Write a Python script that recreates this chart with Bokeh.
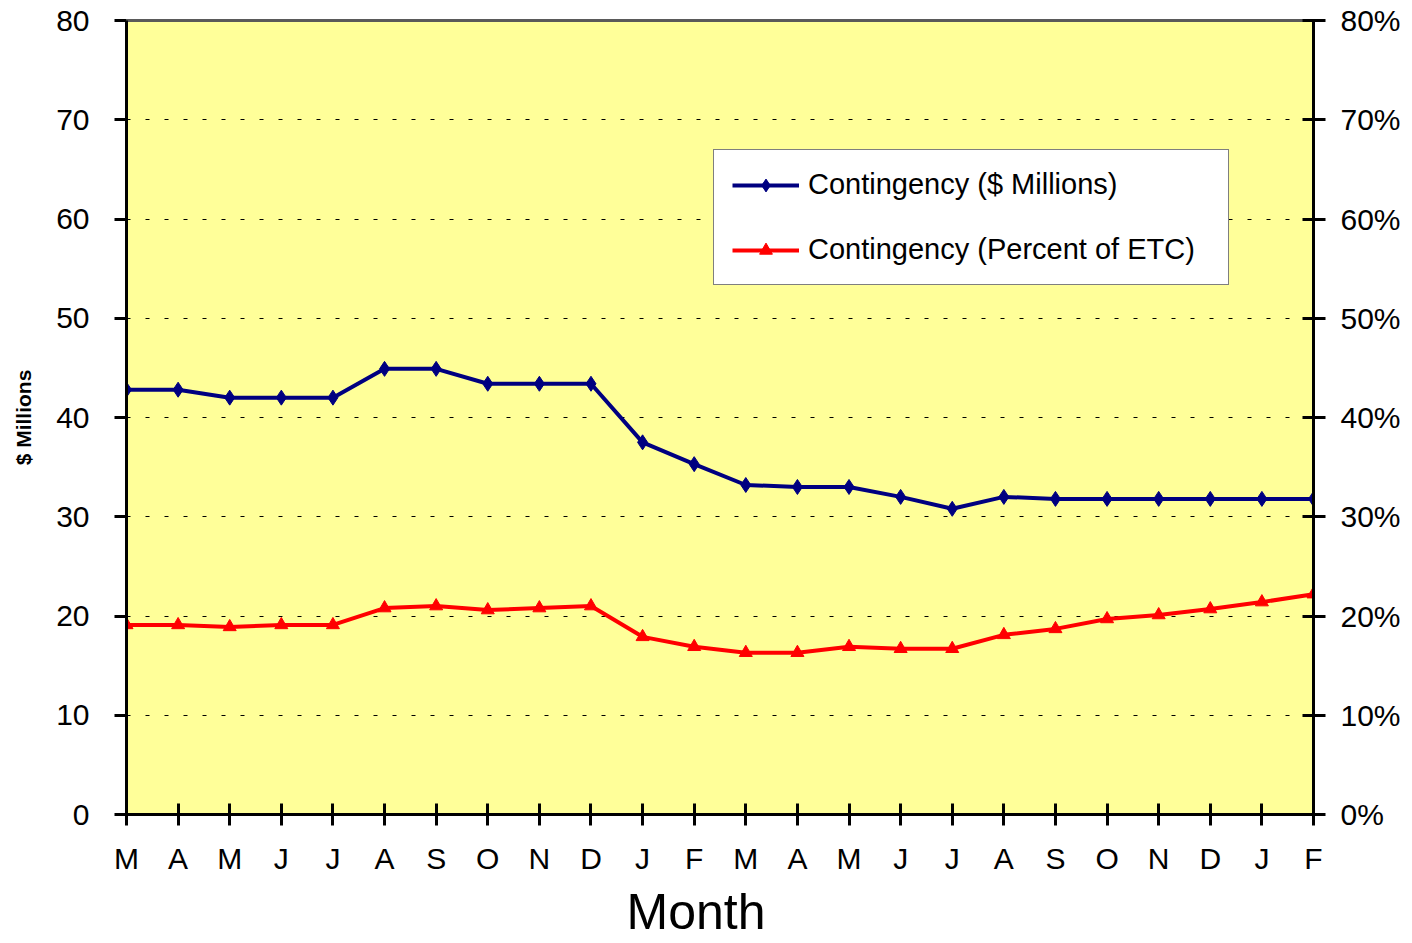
from bokeh.plotting import figure
from bokeh.models import (Range1d, LinearAxis, FixedTicker, NumeralTickFormatter,
                          Legend, LegendItem, Title)
from bokeh.embed import file_html
from bokeh.resources import INLINE

# ---- data ----
months = ["M", "A", "M", "J", "J", "A", "S", "O", "N", "D", "J", "F",
          "M", "A", "M", "J", "J", "A", "S", "O", "N", "D", "J", "F"]
contingency_millions = [42.8, 42.8, 42.0, 42.0, 42.0, 44.9, 44.9, 43.4, 43.4, 43.4, 37.5, 35.3,
                        33.2, 33.0, 33.0, 32.0, 30.8, 32.0, 31.8, 31.8, 31.8, 31.8, 31.8, 31.8]
contingency_pct = [0.191, 0.191, 0.189, 0.191, 0.191, 0.208, 0.210, 0.206, 0.208, 0.210, 0.179, 0.169,
                   0.163, 0.163, 0.169, 0.167, 0.167, 0.181, 0.187, 0.197, 0.201, 0.207, 0.214, 0.222]
left_ticks = [0, 10, 20, 30, 40, 50, 60, 70, 80]
right_ticks = [0.0, 0.1, 0.2, 0.3, 0.4, 0.5, 0.6, 0.7, 0.8]
series_names = ["Contingency ($ Millions)", "Contingency (Percent of ETC)"]

x = list(range(len(months)))
FONT = "Liberation Sans"

p = figure(width=1404, height=943, output_backend="svg", toolbar_location=None,
           x_range=Range1d(0, len(months) - 1), y_range=Range1d(0, 80),
           min_border_left=126, min_border_right=91, min_border_top=20, min_border_bottom=129)
p.background_fill_color = "#FFFF99"
p.border_fill_color = "white"
p.outline_line_color = None
p.extra_y_ranges = {"pct": Range1d(0, 0.8)}

# x axis
xa = p.xaxis[0]
xa.ticker = FixedTicker(ticks=x)
xa.major_label_overrides = {i: m for i, m in enumerate(months)}
xa.minor_tick_line_color = None
xa.major_tick_in = 11
xa.major_tick_out = 11
xa.major_tick_line_width = 3
xa.axis_line_width = 3
xa.axis_line_color = "black"
xa.major_tick_line_color = "black"
xa.major_label_text_font = FONT
xa.major_label_text_font_size = "30px"
xa.major_label_text_color = "black"
xa.major_label_standoff = 16

# left axis
ya = p.yaxis[0]
ya.ticker = FixedTicker(ticks=left_ticks)
ya.minor_tick_line_color = None
ya.major_tick_in = 0
ya.major_tick_out = 12
ya.major_tick_line_width = 3
ya.axis_line_width = 3
ya.axis_line_color = "black"
ya.major_tick_line_color = "black"
ya.major_label_text_font = FONT
ya.major_label_text_font_size = "30px"
ya.major_label_text_color = "black"
ya.major_label_standoff = 25
ya.axis_label = "$ Millions"
ya.axis_label_text_font = FONT
ya.axis_label_text_font_size = "21px"
ya.axis_label_text_font_style = "bold"
ya.axis_label_text_color = "black"
ya.axis_label_standoff = 18

# right axis
ra = LinearAxis(y_range_name="pct", ticker=FixedTicker(ticks=right_ticks),
                formatter=NumeralTickFormatter(format="0%"))
ra.minor_tick_line_color = None
ra.major_tick_in = 11
ra.major_tick_out = 12
ra.major_tick_line_width = 3
ra.axis_line_width = 3
ra.axis_line_color = "black"
ra.major_tick_line_color = "black"
ra.major_label_text_font = FONT
ra.major_label_text_font_size = "30px"
ra.major_label_text_color = "black"
ra.major_label_standoff = 15
p.add_layout(ra, "right")

# top border line
ta = LinearAxis(ticker=FixedTicker(ticks=[]))
ta.axis_line_color = "#5a5a5a"
ta.axis_line_width = 3
ta.major_tick_out = 0
ta.major_tick_in = 0
ta.minor_tick_line_color = None
ta.major_label_standoff = 0
ta.major_label_text_font_size = "0px"
p.add_layout(ta, "above")

# grid
p.xgrid.grid_line_color = None
p.ygrid.ticker = FixedTicker(ticks=left_ticks[1:-1])
p.ygrid.grid_line_color = "black"
p.ygrid.grid_line_width = 1
p.ygrid.grid_line_dash = "4 15"

# series
l1 = p.line(x, contingency_millions, line_color="#000080", line_width=4)
s1 = p.scatter(x, contingency_millions, marker="diamond", size=15,
               fill_color="#000080", line_color="#000080")
l2 = p.line(x, contingency_pct, line_color="#FF0000", line_width=4, y_range_name="pct")
s2 = p.scatter(x, contingency_pct, marker="triangle", size=13,
               fill_color="#FF0000", line_color="#FF0000", y_range_name="pct")

legend = Legend(items=[LegendItem(label=series_names[0], renderers=[l1, s1]),
                       LegendItem(label=series_names[1], renderers=[l2, s2])],
                location=(587, 529))
legend.label_text_font = FONT
legend.label_text_font_size = "29px"
legend.label_text_color = "black"
legend.glyph_width = 67
legend.glyph_height = 32
legend.label_height = 32
legend.label_standoff = 9
legend.label_width = 402
legend.padding = 18
legend.spacing = 32
legend.margin = 0
legend.border_line_color = "black"
legend.border_line_width = 1
legend.background_fill_color = "white"
legend.background_fill_alpha = 1.0
p.add_layout(legend, "center")

# x-axis title
t = Title(text="Month", align="left", offset=500, standoff=8, text_font=FONT,
          text_font_size="50px", text_font_style="normal", text_color="black")
p.add_layout(t, "below")

open("out.html", "w").write(file_html(p, INLINE))
